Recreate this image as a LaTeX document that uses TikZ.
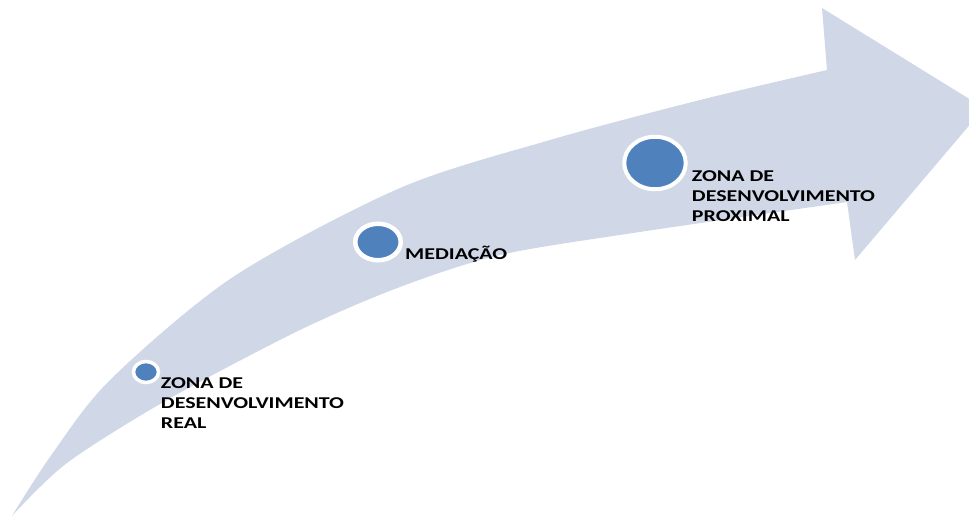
\documentclass[tikz,border=0pt]{standalone}
\usepackage{fontspec}
\setmainfont{Carlito}[FakeStretch=1.33]
\usetikzlibrary{positioning,shapes.geometric}
\definecolor{setafundo}{HTML}{D0D8E8}
\definecolor{pontoazul}{HTML}{4F81BD}
\tikzset{
	ponto/.style={ellipse,fill=pontoazul,draw=white,inner sep=0pt},
	rotulo/.style={align=left,inner sep=0pt,font=\bfseries\fontsize{16.5}{20}\selectfont}
}
\begin{document}
\begin{tikzpicture}[x=1pt,y=-1pt]
	\useasboundingbox (0,0) rectangle (969,519);
	\clip (0,0) rectangle (969,519);
	
	\fill[setafundo] plot[smooth] coordinates {(12,516) (50,457) (110,380) (233,277) (400,188) (550,140) (700,100) (827,70)}
		-- (822,8) -- (984,108) -- (855,260) -- (847,202)
		-- plot[smooth] coordinates {(847,202) (633,233) (500,255) (400,287) (300,330) (167,400) (67,463) (12,516)} -- cycle;
	
	\node[ponto,minimum width=25pt,minimum height=21pt,line width=3.5pt] (real) at (146,372) {};
	\node[ponto,minimum width=45.5pt,minimum height=36.5pt,line width=4.5pt] (med) at (378,242) {};
	\node[ponto,minimum width=61.5pt,minimum height=52.5pt,line width=4pt] (prox) at (655,163) {};
	
	\node[rotulo,below right=5pt and 0.5pt of real.east] (treal) {ZONA DE\\DESENVOLVIMENTO\\REAL};
	\node[rotulo,below right=4pt and 2pt of med.east] (tmed) {MEDIAÇÃO};
	\node[rotulo,below right=7pt and 4pt of prox.east] (tprox) {ZONA DE\\DESENVOLVIMENTO\\PROXIMAL};
\end{tikzpicture}
\end{document}
